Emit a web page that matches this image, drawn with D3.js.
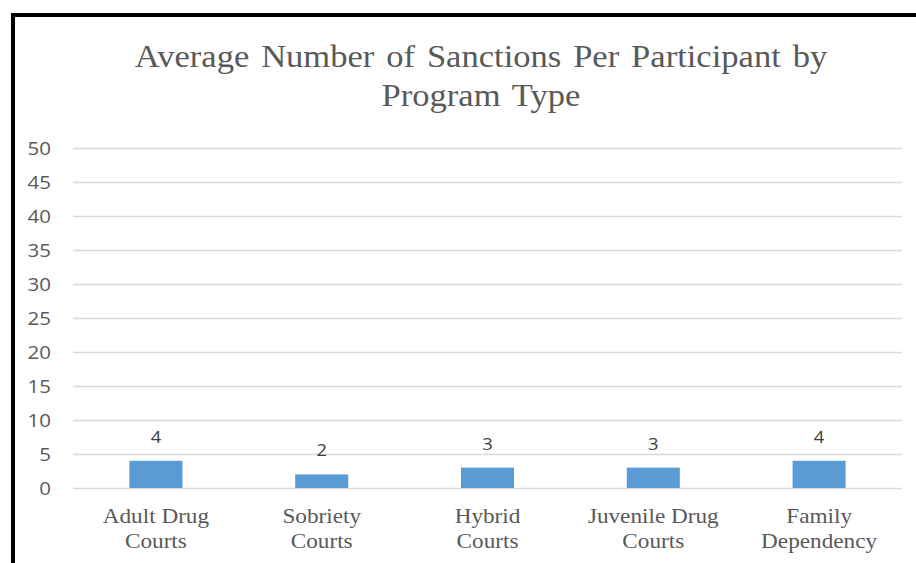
<!DOCTYPE html>
<html><head><meta charset="utf-8">
<script src="https://cdn.jsdelivr.net/npm/d3@7"></script>
<style>body{margin:0;background:#fff;}svg{display:block;}
.serif{font-family:"Liberation Serif","Times New Roman",Times,"DejaVu Serif",serif;}</style>
</head><body>
<script>
const categories = [["Adult Drug","Courts"],["Sobriety","Courts"],["Hybrid","Courts"],["Juvenile Drug","Courts"],["Family","Dependency"]];
const values = [4, 2, 3, 3, 4];
const yTicks = [0,5,10,15,20,25,30,35,40,45,50];
const titleLines = ["Average Number of Sanctions Per Participant by", "Program Type"];

const W = 916, H = 563, SX = 1.08;
const svg = d3.select("body").append("svg").attr("width", W).attr("height", H);
svg.append("rect").attr("width", W).attr("height", H).attr("fill", "#fff");

// border
svg.append("path").attr("d", `M13,${H} L13,15 L${W},15`).attr("fill","none").attr("stroke","#000").attr("stroke-width",4);

const x = d3.scaleBand().domain(d3.range(categories.length)).range([73, 902]).paddingInner(0.68).paddingOuter(0.34);
const y = d3.scaleLinear().domain([0, 50]).range([488, 148]);

const yAxis = d3.axisLeft(y).tickValues(yTicks).tickSize(-(902-73)).tickPadding(22);
const gy = svg.append("g").attr("transform", "translate(73,0)").call(yAxis);
gy.select(".domain").remove();
gy.selectAll(".tick line").attr("stroke", "#d9d9d9").attr("stroke-width", 1.5);
gy.selectAll(".tick text").attr("fill", "#595959").attr("font-family", "'Open Sans', sans-serif").attr("font-size", 19).attr("dy", "0.34em")
  .attr("x", 0).attr("transform", `translate(-22,0) scale(${SX},1)`);

svg.selectAll("rect.bar").data(values).join("rect").attr("class","bar")
  .attr("x", (d,i) => x(i)).attr("width", x.bandwidth())
  .attr("y", d => y(d)).attr("height", d => y(0) - y(d))
  .attr("fill", "#5b9bd5");

svg.selectAll("text.val").data(values).join("text").attr("class","val")
  .attr("transform", (d,i) => `translate(${x(i) + x.bandwidth()/2},${y(d) - 18}) scale(${SX},1)`)
  .attr("text-anchor","middle").attr("fill","#404040")
  .attr("font-family","'Open Sans', sans-serif").attr("font-size",17).text(d => d);

const cat = svg.selectAll("text.cat").data(categories).join("text").attr("class","cat serif")
  .attr("transform", (d,i) => `translate(${x(i) + x.bandwidth()/2},523) scale(${SX},1)`)
  .attr("text-anchor","middle").attr("fill","#595959")
  .attr("font-size",21.5);
cat.selectAll("tspan").data(d => d).join("tspan")
  .attr("x", 0).attr("y", (d,j) => j*25).text(d => d);

svg.selectAll("text.title").data(titleLines).join("text").attr("class","title serif")
  .attr("transform", (d,i) => `translate(481,${67 + i*39}) scale(${SX},1)`)
  .attr("text-anchor","middle").attr("fill","#595959")
  .attr("font-size",32)
  .attr("word-spacing", 3).text(d => d);
</script>
</body></html>
